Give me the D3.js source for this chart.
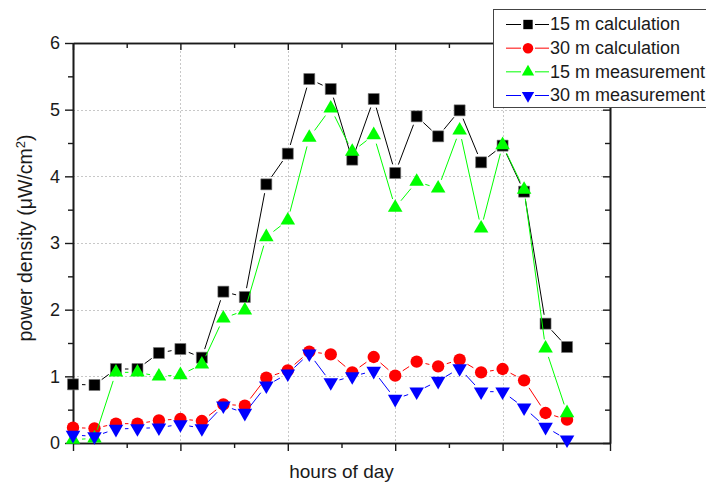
<!DOCTYPE html>
<html>
<head>
<meta charset="utf-8">
<script src="https://cdn.jsdelivr.net/npm/d3@7"></script>
<style>
  body { margin: 0; background: #fff; }
  svg { display: block; font-family: 'Liberation Sans', Arial, sans-serif; }
</style>
</head>
<body>
<div id="chart"></div>
<script>
// hour index of each sample
const hours = [0, 1, 2, 3, 4, 5, 6, 7, 8, 9, 10, 11, 12, 13, 14, 15, 16, 17, 18, 19, 20, 21, 22, 23]

const calc15 = [0.88, 0.87, 1.11, 1.11, 1.35, 1.41, 1.28, 2.27, 2.19, 3.88, 4.34, 5.46, 5.31, 4.25,
  5.16, 4.05, 4.9, 4.6, 4.99, 4.21, 4.46, 3.77, 1.79, 1.44]
const calc30 = [0.23, 0.22, 0.29, 0.29, 0.34, 0.36, 0.33, 0.58, 0.56, 0.98, 1.09, 1.37, 1.33, 1.06,
  1.29, 1.01, 1.22, 1.15, 1.25, 1.06, 1.11, 0.94, 0.45, 0.35]
const meas15 = [0.05, 0.07, 1.06, 1.06, 1.0, 1.02, 1.18, 1.87, 1.99, 3.09, 3.34, 4.58, 5.02, 4.37,
  4.62, 3.53, 3.92, 3.82, 4.69, 3.22, 4.47, 3.8, 1.42, 0.45]
const meas30 = [0.12, 0.1, 0.21, 0.22, 0.23, 0.28, 0.22, 0.56, 0.45, 0.86, 1.04, 1.34, 0.91, 1.0,
  1.08, 0.66, 0.77, 0.93, 1.12, 0.77, 0.77, 0.53, 0.24, 0.05]

const yTicks = [0, 1, 2, 3, 4, 5, 6]
const yMinor = [0.5, 1.5, 2.5, 3.5, 4.5, 5.5]
const xTicks = [0, 5, 10, 15, 20, 25]
const xMinor = [2.5, 7.5, 12.5, 17.5, 22.5]

const series = [
  { name: '15 m calculation', values: calc15, color: '#000000', shape: 'square' },
  { name: '30 m calculation', values: calc30, color: '#ff0000', shape: 'circle' },
  { name: '15 m measurement', values: meas15, color: '#00ff00', shape: 'up' },
  { name: '30 m measurement', values: meas30, color: '#0000ff', shape: 'down' },
]

const W = 706
const H = 485
const pLeft = 73, pRight = 610, pTop = 43, pBottom = 443

const svg = d3.select('#chart').append('svg').attr('width', W).attr('height', H)

const x = d3.scaleLinear().domain([0, 25]).range([pLeft, pRight])
const y = d3.scaleLinear().domain([0, 6]).range([pBottom, pTop])

// grid
const grid = svg.append('g').attr('stroke', '#c8c8c8').attr('stroke-dasharray', '2,2').attr('stroke-width', 1)
grid.selectAll('.gy').data(yTicks.filter((d) => d > 0 && d < 6)).enter().append('line')
  .attr('x1', pLeft).attr('x2', pRight)
  .attr('y1', (d) => Math.round(y(d)) + 0.5).attr('y2', (d) => Math.round(y(d)) + 0.5)
grid.selectAll('.gx').data(xTicks.filter((d) => d > 0 && d < 25)).enter().append('line')
  .attr('y1', pTop).attr('y2', pBottom)
  .attr('x1', (d) => Math.round(x(d)) + 0.5).attr('x2', (d) => Math.round(x(d)) + 0.5)

// axes
function styleAxis(g) {
  g.select('.domain').attr('stroke', '#1a1a1a').attr('stroke-width', 1.6)
  g.selectAll('.tick line').attr('stroke', '#1a1a1a').attr('stroke-width', 1.4)
  g.selectAll('.tick text').attr('fill', '#1a1a1a').style('font-size', '18px')
}

svg.append('g').attr('transform', `translate(0,${pBottom})`)
  .call(d3.axisBottom(x).tickValues(xTicks).tickFormat('').tickSize(8).tickSizeOuter(0)).call(styleAxis)
svg.append('g').attr('transform', `translate(0,${pBottom})`)
  .call(d3.axisBottom(x).tickValues(xMinor).tickFormat('').tickSize(5).tickSizeOuter(0)).call(styleAxis)
svg.append('g').attr('transform', `translate(0,${pTop})`)
  .call(d3.axisTop(x).tickValues(xTicks).tickFormat('').tickSize(-7).tickSizeOuter(0)).call(styleAxis)
svg.append('g').attr('transform', `translate(0,${pTop})`)
  .call(d3.axisTop(x).tickValues(xMinor).tickFormat('').tickSize(-5).tickSizeOuter(0)).call(styleAxis)
svg.append('g').attr('transform', `translate(${pLeft},0)`)
  .call(d3.axisLeft(y).tickValues(yTicks).tickFormat(d3.format('d')).tickSize(8).tickPadding(5).tickSizeOuter(0)).call(styleAxis)
svg.append('g').attr('transform', `translate(${pLeft},0)`)
  .call(d3.axisLeft(y).tickValues(yMinor).tickFormat('').tickSize(5).tickSizeOuter(0)).call(styleAxis)
svg.append('g').attr('transform', `translate(${pRight},0)`)
  .call(d3.axisRight(y).tickValues(yTicks).tickFormat('').tickSize(-7).tickSizeOuter(0)).call(styleAxis)
svg.append('g').attr('transform', `translate(${pRight},0)`)
  .call(d3.axisRight(y).tickValues(yMinor).tickFormat('').tickSize(-5).tickSizeOuter(0)).call(styleAxis)

// axis titles
svg.append('text').attr('x', (pLeft + pRight) / 2).attr('y', 478)
  .attr('text-anchor', 'middle').style('font-size', '19px').attr('fill', '#1a1a1a')
  .text('hours of day')
const yt = svg.append('text').attr('transform', `translate(32,${(pTop + pBottom) / 2 - 5}) rotate(-90)`)
  .attr('text-anchor', 'middle').style('font-size', '19.5px').attr('fill', '#1a1a1a')
yt.append('tspan').text('power density (\u03bcW/cm')
yt.append('tspan').attr('dy', -7).style('font-size', '13px').text('2')
yt.append('tspan').attr('dy', 7).text(')')

// marker shapes
function symbolPath(shape, scale) {
  if (shape === 'square') return d3.symbol(d3.symbolSquare, 121 * scale * scale)()
  if (shape === 'circle') return d3.symbol(d3.symbolCircle, 120 * scale * scale)()
  return d3.symbol(d3.symbolTriangle, 92 * scale * scale)()
}

// lines are broken around every marker
const gap = 9
series.forEach((s) => {
  const pts = s.values.map((v, i) => [x(hours[i]), y(v)])
  const segs = []
  for (let i = 0; i < pts.length - 1; i++) {
    const [x0, y0] = pts[i]
    const [x1, y1] = pts[i + 1]
    const len = Math.hypot(x1 - x0, y1 - y0)
    if (len <= gap * 2) continue
    const ux = (x1 - x0) / len, uy = (y1 - y0) / len
    segs.push([x0 + ux * gap, y0 + uy * gap, x1 - ux * gap, y1 - uy * gap])
  }
  const g = svg.append('g')
  g.selectAll('line').data(segs).enter().append('line')
    .attr('x1', (d) => d[0]).attr('y1', (d) => d[1])
    .attr('x2', (d) => d[2]).attr('y2', (d) => d[3])
    .attr('stroke', s.color).attr('stroke-width', 1)
  g.selectAll('path').data(pts).enter().append('path')
    .attr('d', symbolPath(s.shape, 1))
    .attr('transform', (d) => `translate(${d[0]},${d[1]})` + (s.shape === 'down' ? ' rotate(180)' : ''))
    .attr('fill', s.color)
    .attr('stroke', s.shape === 'square' ? '#777' : 'none').attr('stroke-width', 0.6)
})

// legend
const lg = svg.append('g')
lg.append('rect').attr('x', 493.5).attr('y', 9.5).attr('width', 230).attr('height', 98)
  .attr('fill', '#fff').attr('stroke', '#444').attr('stroke-width', 1)
const rowY = d3.scalePoint().domain(series.map((s) => s.name)).range([24, 95])
series.forEach((s) => {
  const ry = rowY(s.name)
  const row = lg.append('g').attr('transform', `translate(0,${ry})`)
  row.append('line').attr('x1', 506).attr('x2', 521).attr('y1', 0.5).attr('y2', 0.5).attr('stroke', s.color)
  row.append('line').attr('x1', 535).attr('x2', 549).attr('y1', 0.5).attr('y2', 0.5).attr('stroke', s.color)
  row.append('path').attr('d', symbolPath(s.shape, 0.85))
    .attr('transform', `translate(528,0.5)` + (s.shape === 'down' ? ' rotate(180)' : ''))
    .attr('fill', s.color)
  row.append('text').attr('x', 550).attr('y', 0).attr('dy', '0.35em')
    .style('font-size', '18px').attr('fill', '#1a1a1a').text(s.name)
})
</script>
</body>
</html>
